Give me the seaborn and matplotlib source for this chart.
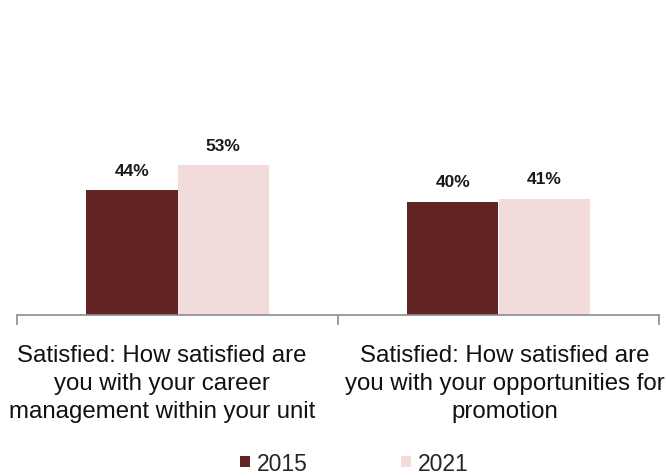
import matplotlib
matplotlib.use("Agg")
import matplotlib.pyplot as plt
import matplotlib.transforms as mtransforms
import seaborn as sns
import pandas as pd
from matplotlib.patches import Patch

categories = [
    "Satisfied: How satisfied are\nyou with your career\nmanagement within your unit",
    "Satisfied: How satisfied are\nyou with your opportunities for\npromotion",
]
years = ["2015", "2021"]
values_2015 = [44, 40]
values_2021 = [53, 41]
colors = {"2015": "#632523", "2021": "#F2DCDB"}

df = pd.DataFrame({
    "category": categories * 2,
    "year": [years[0]] * 2 + [years[1]] * 2,
    "value": values_2015 + values_2021,
})

sns.set_theme(style="white")
plt.rcParams["font.family"] = ["Liberation Sans", "DejaVu Sans"]

fig = plt.figure(figsize=(6.66, 4.77), dpi=100)
ax = fig.add_axes([17 / 666, 1 - 316 / 477, 642 / 666, 283 / 477])

sns.barplot(data=df, x="category", y="value", hue="year", order=categories,
            hue_order=years, palette=colors, width=0.57, gap=0, saturation=1,
            linewidth=0, ax=ax, legend=False)

ax.set_xlim(-0.5, 1.5)
ax.set_ylim(0, 100)
ax.set_xlabel("")
ax.set_ylabel("")
ax.set_yticks([])
for side in ["left", "right", "top"]:
    ax.spines[side].set_visible(False)
ax.spines["bottom"].set_color("#8c8c8c")
ax.spines["bottom"].set_linewidth(1.2)

# category labels under each group, ticks at group boundaries
ax.set_xticks([0, 1])
ax.set_xticklabels(categories, fontsize=17.3, color="#111111", linespacing=1.35)
ax.tick_params(axis="x", length=0, pad=21)
ax.set_xticks([-0.5, 0.5, 1.5], minor=True)
ax.tick_params(axis="x", which="minor", length=7, width=1.2, color="#8c8c8c",
               direction="out", bottom=True)

# nudge the wrapped labels horizontally (in points)
for lbl, dx in zip(ax.get_xticklabels(), [-11, 4.5]):
    lbl.set_transform(lbl.get_transform() +
                      mtransforms.ScaledTranslation(dx / 72, 0, fig.dpi_scale_trans))

for container in ax.containers:
    ax.bar_label(container, labels=[f"{v:.0f}%" for v in container.datavalues],
                 padding=9, fontsize=12.5, fontweight="bold",
                 family=["Liberation Sans Narrow", "Liberation Sans"], color="#1a1a1a")

handles = [Patch(facecolor=colors[y], edgecolor="none", label=y) for y in years]
fig.legend(handles=handles, loc="lower center", bbox_to_anchor=(0.532, 0.0),
           ncol=2, frameon=False, fontsize=16.5, handlelength=0.4, handleheight=0.4,
           handletextpad=0.3, columnspacing=4.1, borderaxespad=0.0, borderpad=0.05)

fig.savefig("out.png", dpi=100)
